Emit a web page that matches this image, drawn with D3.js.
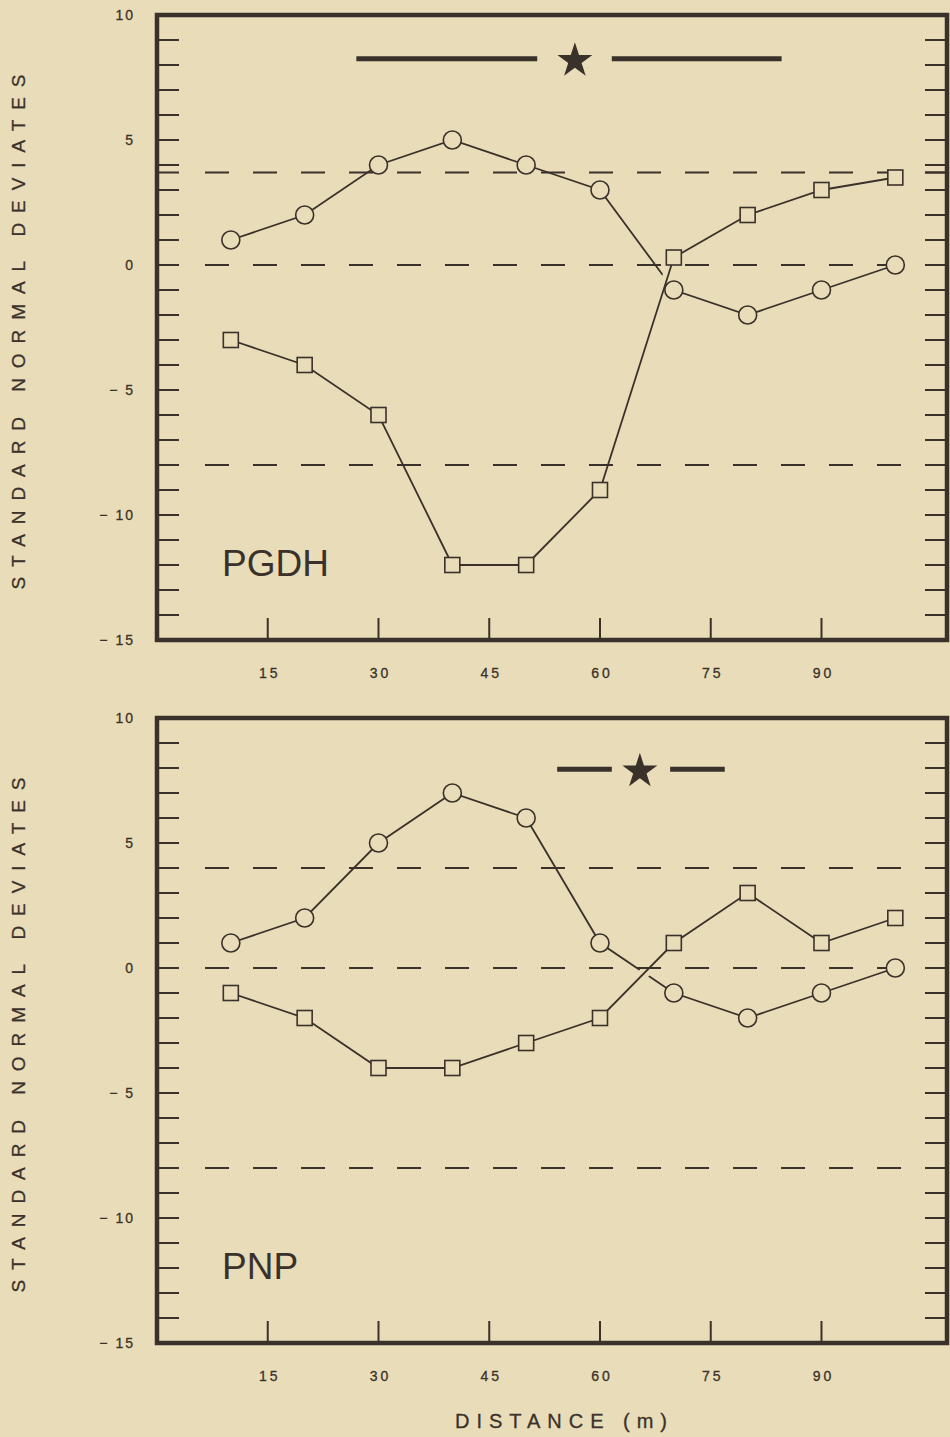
<!DOCTYPE html>
<html lang="en">
<head>
	<meta charset="utf-8">
	<title>Standard normal deviates - PGDH / PNP</title>
	<script src="https://cdn.jsdelivr.net/npm/d3@7"></script>
	<style>
		body { margin: 0; background: #e8ddb8; }
		svg { display: block; }
		text { font-family: "Liberation Sans", Helvetica, Arial, sans-serif; fill: #3b312b; }
	</style>
</head>
<body>
<script>
	// data
	var distances = [10, 20, 30, 40, 50, 60, 70, 80, 90, 100];
	var pgdhCircles = [1, 2, 4, 5, 4, 3, -1, -2, -1, 0];
	var pgdhSquares = [-3, -4, -6, -12, -12, -9, 0.3, 2, 3, 3.5];
	var pnpCircles = [1, 2, 5, 7, 6, 1, -1, -2, -1, 0];
	var pnpSquares = [-1, -2, -4, -4, -3, -2, 1, 3, 1, 2];
	var pgdhCritical = [3.7, 0, -8];
	var pnpCritical = [4, 0, -8];
	// significance bars: [left start, left end, star, right start, right end, level]
	var pgdhBar = [27, 51.5, 56.6, 61.6, 84.6, 8.25];
	var pnpBar = [54.2, 61.6, 65.4, 69.5, 76.9, 7.95];
	var xTicks = [15, 30, 45, 60, 75, 90];
	var yTicks = [10, 5, 0, -5, -10, -15];
	var yTickLabels = ["10", "5", "0", "\u2212 5", "\u2212 10", "\u2212 15"];

	var w = 950, h = 1437;
	var ink = "#3b312b", bg = "#e8ddb8";

	var svg = d3.select("body").append("svg")
		.attr("width", w)
		.attr("height", h);

	var x = d3.scaleLinear().domain([0, 107]).range([157, 947]);

	function drawPanel(top, name, circles, squares, critical, bar) {
		var y = d3.scaleLinear().domain([-15, 10]).range([top + 625, top]);
		var g = svg.append("g");

		// minor y ticks both sides
		var minor = d3.range(-14, 10);
		g.selectAll(".ml").data(minor.concat(critical)).enter().append("line")
			.attr("x1", x(0)).attr("x2", x(0) + 22)
			.attr("y1", function (d) { return y(d); })
			.attr("y2", function (d) { return y(d); })
			.attr("stroke", ink).attr("stroke-width", 2);
		g.selectAll(".mr").data(minor.concat(critical)).enter().append("line")
			.attr("x1", x(107)).attr("x2", x(107) - 22)
			.attr("y1", function (d) { return y(d); })
			.attr("y2", function (d) { return y(d); })
			.attr("stroke", ink).attr("stroke-width", 2);

		// x ticks
		g.selectAll(".xt").data(xTicks).enter().append("line")
			.attr("x1", function (d) { return x(d); })
			.attr("x2", function (d) { return x(d); })
			.attr("y1", y(-15)).attr("y2", y(-15) - 22)
			.attr("stroke", ink).attr("stroke-width", 2);

		g.selectAll(".xl").data(xTicks).enter().append("text")
			.attr("x", function (d) { return x(d) + 2; })
			.attr("y", y(-15) + 38)
			.attr("text-anchor", "middle")
			.attr("font-size", "14px")
			.attr("letter-spacing", "3px")
			.attr("stroke", ink).attr("stroke-width", 0.3)
			.text(function (d) { return d; });

		g.selectAll(".yl").data(yTicks).enter().append("text")
			.attr("x", 135)
			.attr("y", function (d) { return y(d) + 5; })
			.attr("text-anchor", "end")
			.attr("font-size", "14px")
			.attr("letter-spacing", "2px")
			.attr("stroke", ink).attr("stroke-width", 0.3)
			.text(function (d, i) { return yTickLabels[i]; });

		var line = d3.line()
			.x(function (d, i) { return x(distances[i]); })
			.y(function (d) { return y(d); });

		// circles line
		g.append("path").datum(circles)
			.attr("d", line)
			.attr("fill", "none").attr("stroke", ink).attr("stroke-width", 1.8);

		// halo of squares line makes the break where the lines cross
		g.append("path").datum(squares)
			.attr("d", line)
			.attr("fill", "none").attr("stroke", bg).attr("stroke-width", 11);

		// dashed critical lines
		g.selectAll(".crit").data(critical).enter().append("line")
			.attr("x1", 205).attr("x2", x(107))
			.attr("y1", function (d) { return y(d); })
			.attr("y2", function (d) { return y(d); })
			.attr("stroke", ink).attr("stroke-width", 2)
			.attr("stroke-dasharray", "24,24");

		g.append("path").datum(squares)
			.attr("d", line)
			.attr("fill", "none").attr("stroke", ink).attr("stroke-width", 1.8);

		// markers
		g.selectAll(".c").data(circles).enter().append("circle")
			.attr("cx", function (d, i) { return x(distances[i]); })
			.attr("cy", function (d) { return y(d); })
			.attr("r", 9)
			.attr("fill", bg).attr("stroke", ink).attr("stroke-width", 1.6);
		g.selectAll(".s").data(squares).enter().append("rect")
			.attr("x", function (d, i) { return x(distances[i]) - 7.5; })
			.attr("y", function (d) { return y(d) - 7.5; })
			.attr("width", 15).attr("height", 15)
			.attr("fill", bg).attr("stroke", ink).attr("stroke-width", 1.6);

		// significance bar with star
		g.append("line")
			.attr("x1", x(bar[0])).attr("x2", x(bar[1]))
			.attr("y1", y(bar[5])).attr("y2", y(bar[5]))
			.attr("stroke", ink).attr("stroke-width", 5);
		g.append("line")
			.attr("x1", x(bar[3])).attr("x2", x(bar[4]))
			.attr("y1", y(bar[5])).attr("y2", y(bar[5]))
			.attr("stroke", ink).attr("stroke-width", 5);
		g.append("path")
			.attr("d", d3.symbol().type(d3.symbolStar).size(380)())
			.attr("transform", "translate(" + x(bar[2]) + "," + (y(bar[5]) + 2) + ")")
			.attr("fill", ink);

		// frame
		g.append("rect")
			.attr("x", x(0)).attr("y", y(10))
			.attr("width", x(107) - x(0)).attr("height", y(-15) - y(10))
			.attr("fill", "none").attr("stroke", ink).attr("stroke-width", 4.5);

		g.append("text")
			.attr("x", 222).attr("y", top + 561)
			.attr("font-size", "37px")
			.text(name);

		g.append("text")
			.attr("transform", "translate(25," + (top + 317) + ") rotate(-90)")
			.attr("text-anchor", "middle")
			.attr("font-size", "19px")
			.attr("stroke", ink).attr("stroke-width", 0.3)
			.attr("textLength", 515)
			.attr("lengthAdjust", "spacing")
			.text("STANDARD  NORMAL  DEVIATES");
	}

	drawPanel(15, "PGDH", pgdhCircles, pgdhSquares, pgdhCritical, pgdhBar);
	drawPanel(718, "PNP", pnpCircles, pnpSquares, pnpCritical, pnpBar);

	svg.append("text")
		.attr("x", 455).attr("y", 1428)
		.attr("font-size", "20px")
		.attr("stroke", ink).attr("stroke-width", 0.3)
		.attr("textLength", 212)
		.attr("lengthAdjust", "spacing")
		.text("DISTANCE  (m)");
</script>
</body>
</html>
